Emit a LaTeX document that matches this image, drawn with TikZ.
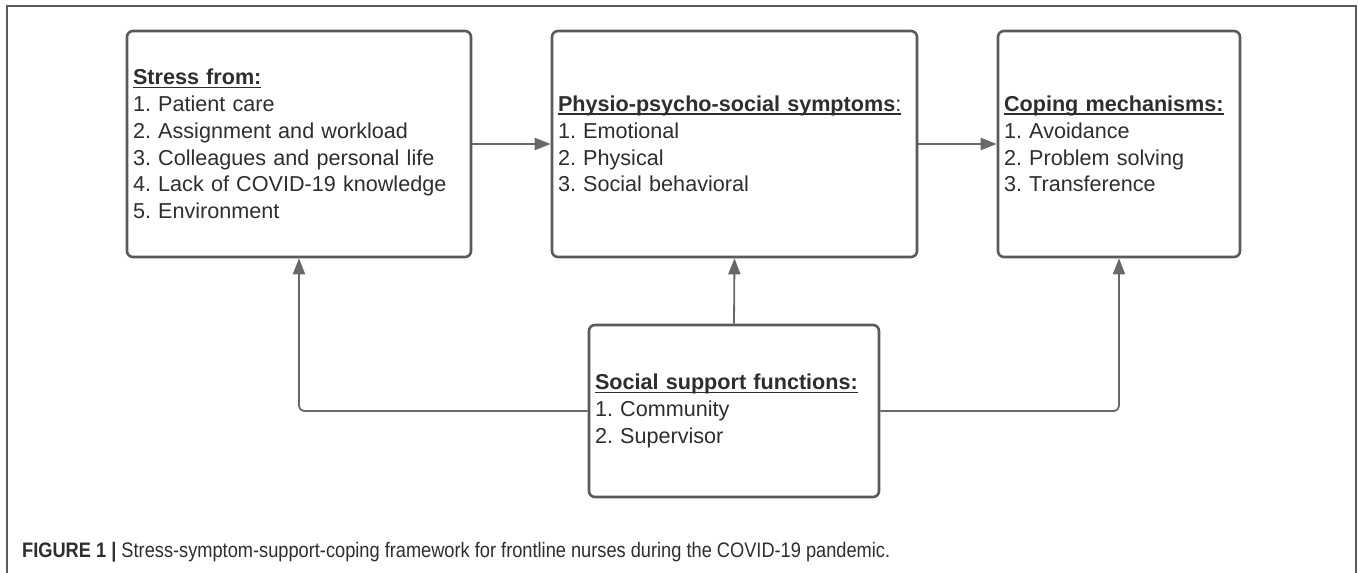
\documentclass[tikz,border=0pt]{standalone}
\usepackage{fontspec}
\usepackage{graphicx}
\setmainfont{Liberation Sans}
\usetikzlibrary{arrows.meta}
\definecolor{boxc}{HTML}{5A5A5A}
\definecolor{linec}{HTML}{686868}
\definecolor{txt}{HTML}{2E2E2E}
\newcommand\hdul[1]{\setbox0\hbox{#1}\rlap{\rule[-3.6pt]{\wd0}{1.7pt}}\box0}
\frenchspacing
\begin{document}
\begin{tikzpicture}[x=1pt,y=-1pt,
  box/.style={draw=boxc, line width=2.6pt, rounded corners=6pt, fill=white, text=txt,
    align=left, inner xsep=6pt, inner ysep=0pt, font=\fontsize{21.6}{26.8}\selectfont},
  conn/.style={draw=linec, line width=1.8pt, rounded corners=5pt},
  arr/.style={conn, -{Triangle[length=16pt,width=12pt]}},
  frame/.style={draw=boxc, line width=1.5pt}]
\useasboundingbox (0,0) rectangle (1358,573);
\draw[frame] (7,573) -- (7,6) -- (1356,6) -- (1356,573);

\node[box, minimum width=344pt, minimum height=226pt, text width=332pt] (a) at (299,144)
  {\hdul{\textbf{Stress from:}}\\
   1. Patient care\\
   2. Assignment and workload\\
   3. Colleagues and personal life\\
   4. Lack of COVID-19 knowledge\\
   5. Environment};

\node[box, minimum width=365pt, minimum height=226pt, text width=353pt] (b) at (734.5,144)
  {\hdul{\textbf{Physio-psycho-social symptoms}:}\\
   1. Emotional\\
   2. Physical\\
   3. Social behavioral};

\node[box, minimum width=242pt, minimum height=226pt, text width=230pt] (c) at (1119,144)
  {\hdul{\textbf{Coping mechanisms:}}\\
   1. Avoidance\\
   2. Problem solving\\
   3. Transference};

\node[box, minimum width=290pt, minimum height=172pt, text width=278pt] (s) at (734,411)
  {\hdul{\textbf{Social support functions:}}\\
   1. Community\\
   2. Supervisor};

\draw[arr] (a.east) -- (b.west);
\draw[arr] (b.east) -- (c.west);
\draw[arr] (s.west) -| (a.south);
\draw[arr] (s.north) -- (b.south);
\draw[arr] (s.east) -| (c.south);

\node[anchor=base west, inner sep=0pt, text=txt] (cap) at (22,557)
  {\resizebox{868pt}{\height}{\fontsize{21}{23}\selectfont\textbf{FIGURE 1 |} Stress-symptom-support-coping framework for frontline nurses during the COVID-19 pandemic.}};
\end{tikzpicture}
\end{document}
